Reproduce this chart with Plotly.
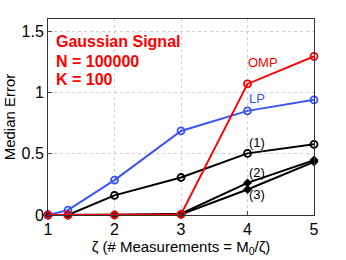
import plotly.graph_objects as go

zeta = [1, 1.3, 2, 3, 4, 5]
lp = [0.0, 0.04, 0.285, 0.686, 0.85, 0.94]
omp = [0.0, 0.0, 0.0, 0.005, 1.07, 1.295]
s1 = [0.0, 0.0, 0.16, 0.306, 0.503, 0.577]
s2 = [0.0, 0.0, 0.0, 0.01, 0.262, 0.448]
s3 = [0.0, 0.0, 0.0, 0.005, 0.208, 0.434]

xticks = [1, 2, 3, 4, 5]
yticks = [0, 0.5, 1, 1.5]

BLUE = "#3a55f5"
RED = "#ff0000"
FONT = "Liberation Sans, Arial, sans-serif"

fig = go.Figure()

def add(y, color, symbol, size):
    fig.add_trace(go.Scatter(
        x=zeta, y=y, mode="lines+markers",
        line=dict(color=color, width=2),
        marker=dict(symbol=symbol, size=size, color=color,
                    line=dict(color=color, width=1.8)),
        cliponaxis=False, showlegend=False))

add(s3, "black", "diamond", 5)
add(s2, "black", "diamond", 5)
add(s1, "black", "circle-open", 7)
add(lp, BLUE, "circle-open", 7)
add(omp, RED, "circle-open", 7)

ann = []
for txt, y in [("Gaussian Signal", 42), ("N = 100000", 61), ("K = 100", 79)]:
    ann.append(dict(text="<b>" + txt + "</b>", xref="paper", yref="paper",
                    x=(54 - 48) / 266, y=1 - (y - 19) / 196, xanchor="left", yanchor="middle",
                    showarrow=False, font=dict(color=RED, size=16, family=FONT)))
for txt, x, y, c in [("OMP", 4.23, 1.243, RED), ("LP", 4.15, 0.948, BLUE),
                     ("(1)", 4.14, 0.588, "black"), ("(2)", 4.14, 0.35, "black"),
                     ("(3)", 4.14, 0.17, "black")]:
    ann.append(dict(text=txt, x=x, y=y, showarrow=False,
                    font=dict(color=c, size=13, family=FONT)))

fig.update_layout(
    width=346, height=260,
    margin=dict(l=48, r=32, t=19, b=45),
    paper_bgcolor="white", plot_bgcolor="white",
    font=dict(family=FONT, size=14, color="black"),
    annotations=ann,
    xaxis=dict(range=[1, 5], tickvals=xticks, ticks="inside", ticklen=4,
               showline=True, linecolor="#333", linewidth=1, mirror=True,
               showgrid=True, gridcolor="#d0d0d0", griddash="dot", gridwidth=1,
               zeroline=False, tickfont=dict(size=16), automargin=False,
               title=dict(text="ζ (# Measurements = M<sub>0</sub>/ζ)", standoff=2, font=dict(size=15))),
    yaxis=dict(range=[0, 1.6], tickvals=yticks, ticktext=["0", "0.5", "1", "1.5"],
               ticks="inside", ticklen=4,
               showline=True, linecolor="#333", linewidth=1, mirror=True,
               showgrid=True, gridcolor="#d0d0d0", griddash="dot", gridwidth=1,
               zeroline=False, tickfont=dict(size=16), automargin=False,
               title=dict(text="Median Error", standoff=2, font=dict(size=15))),
)

fig.write_html("out.html", config={"displayModeBar": False},
               post_script="document.body.style.margin='0';document.body.style.padding='0';")
